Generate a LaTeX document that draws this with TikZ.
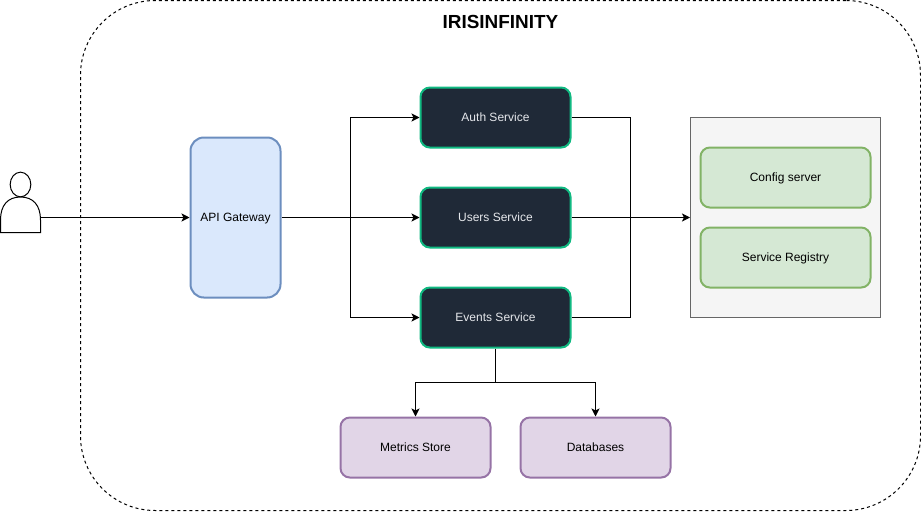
\documentclass[tikz,border=0pt]{standalone}
\usepackage{fontspec}
\setmainfont{Liberation Sans}
\usetikzlibrary{arrows.meta, positioning, shapes.geometric}
\definecolor{gatewayfill}{HTML}{DAE8FC}
\definecolor{gatewayline}{HTML}{6C8EBF}
\definecolor{servicefill}{HTML}{1F2937}
\definecolor{serviceline}{HTML}{10B981}
\definecolor{servicetext}{HTML}{E5E7EB}
\definecolor{storefill}{HTML}{E1D5E7}
\definecolor{storeline}{HTML}{9673A6}
\definecolor{infrafill}{HTML}{D5E8D4}
\definecolor{infraline}{HTML}{82B366}
\definecolor{panelfill}{HTML}{F5F5F5}
\definecolor{panelline}{HTML}{666666}

\begin{document}
\begin{tikzpicture}[x=0.75pt, y=-0.75pt, font=\fontsize{9}{11}\selectfont,
    box/.style={draw, line width=1.5pt, rounded corners=7pt, minimum width=112.5pt,
                minimum height=45pt, align=center, inner sep=0pt,
                text height=6pt, text depth=0pt},
    servicebox/.style={box, draw=serviceline, fill=servicefill, text=servicetext},
    storebox/.style={box, draw=storeline, fill=storefill},
    infrabox/.style={box, draw=infraline, fill=infrafill, minimum width=127.5pt},
    link/.style={-{Stealth[length=6pt, width=6pt, inset=1.5pt]}, line width=0.75pt},
    wire/.style={line width=0.75pt}]
  \useasboundingbox (0,0) rectangle (921,511);

  %% ─── Outer boundary ───────────────────────────────────────────────────────
  \node[draw, dash pattern=on 2.25pt off 2.25pt, line width=0.75pt, rounded corners=56pt,
        minimum width=630pt, minimum height=382.5pt, inner sep=0pt] (platform) at (500.5,255.5) {};
  \node[font=\fontsize{14.2}{16}\selectfont\bfseries] (title) at (500.5,22) {IRISINFINITY};

  %% ─── User ─────────────────────────────────────────────────────────────────
  \node[draw, ellipse, line width=0.75pt, minimum width=15.5pt, minimum height=18.5pt,
        inner sep=0pt] (head) at (20.5,184.5) {};
  \draw[line width=0.75pt, fill=white] (0.5,232.5) -- (0.5,220)
    .. controls (0.5,205) and (8,197) .. (20.5,197)
    .. controls (33,197) and (40.5,205) .. (40.5,220) -- (40.5,232.5) -- cycle;
  \coordinate (user) at (40.5,217.5);

  %% ─── Gateway and services ─────────────────────────────────────────────────
  \node[box, draw=gatewayline, fill=gatewayfill, rounded corners=10pt, minimum width=67.5pt,
        minimum height=120pt] (gateway) at (235.5,217.5) {API Gateway};

  \foreach \name/\yp/\label in {auth/117.5/Auth Service, users/217.5/Users Service,
                                events/317.5/Events Service} {
    \node[servicebox] (\name) at (495.5,\yp) {\label};
  }

  %% ─── Config panel ─────────────────────────────────────────────────────────
  \node[draw=panelline, fill=panelfill, line width=0.75pt, minimum width=142.5pt,
        minimum height=150pt, inner sep=0pt] (panel) at (785.5,217.5) {};
  \node[infrabox] (config) at (785.5,177.5) {Config server};
  \node[infrabox] (registry) at (785.5,257.5) {Service Registry};

  %% ─── Stores ───────────────────────────────────────────────────────────────
  \node[storebox] (metrics) at (415.5,447.5) {Metrics Store};
  \node[storebox] (databases) at (595.5,447.5) {Databases};

  %% ─── Connectors ───────────────────────────────────────────────────────────
  \coordinate (fanout) at (350.5,217.5);
  \coordinate (fanin) at (630.5,217.5);
  \coordinate (split) at (495.5,382.5);

  \draw[link] (user) -- (gateway.west);
  \draw[wire] (gateway.east) -- (fanout);
  \foreach \name in {auth,users,events}
    \draw[link] (fanout) |- (\name.west);

  \foreach \name in {auth,events}
    \draw[wire] (\name.east) -| (fanin);
  \draw[link] (users.east) -- (panel.west);

  \draw[wire] (events.south) -- (split);
  \foreach \name in {metrics,databases}
    \draw[link] (split) -| (\name.north);
\end{tikzpicture}
\end{document}
